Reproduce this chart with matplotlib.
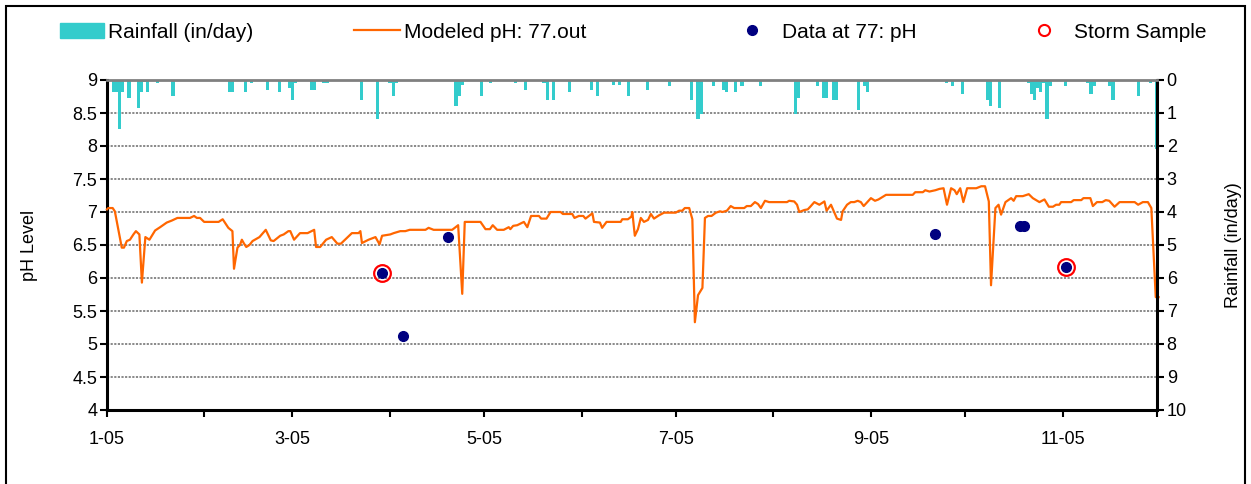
import numpy as np
import matplotlib
matplotlib.use("Agg")
import matplotlib.pyplot as plt
from matplotlib.patches import Patch, Rectangle
from matplotlib.lines import Line2D

plt.rcParams['font.family'] = ['Liberation Sans', 'DejaVu Sans']

# ---------------- data ----------------
# day offset from 1-Jan-2005
ph_days = [0, 0.4, 1.8, 2.5, 4.7, 5.4, 6.3, 7.3, 8.4, 9.2, 10.3, 11.1, 12.2, 13.5, 15.3, 16.9, 19.0, 20.6,
           22.4, 26.4, 27.7, 28.6, 29.6, 30.9, 35.5, 36.8, 38.6, 39.9, 40.4, 41.5, 42.3, 42.9, 43.6, 44.3,
           45.3, 46.3, 48.5, 50.5, 52.1, 53.0, 55.1, 56.2, 57.7, 58.3, 59.5, 61.4, 63.8, 65.9, 66.5, 67.8,
           69.7, 71.5, 73.3, 74.4, 77.9, 80.0, 80.6, 81.1, 83.2, 85.4, 86.7, 87.5, 90.1, 91.2, 93.3, 94.9,
           96.3, 101.3, 102.3, 103.9, 109.8, 111.7, 113.0, 113.8, 118.8, 120.4, 121.8, 122.7, 124.1, 126.2,
           127.8, 128.3, 129.2, 130.5, 132.6, 133.7, 134.9, 137.4, 138.1, 139.8, 141.1, 144.3, 145.0, 148.0,
           148.7, 150.1, 151.5, 152.2, 154.4, 154.9, 156.8, 157.5, 158.9, 163.4, 163.9, 165.7, 166.8, 167.1,
           167.9, 168.9, 169.8, 170.8, 172.1, 173.0, 174.0, 175.6, 177.2, 180.9, 182.0, 183.0, 183.8, 185.2,
           186.2, 187.0, 188.0, 189.4, 190.2, 191.2, 192.3, 193.7, 195.0, 195.8, 197.2, 198.4, 199.5, 202.7,
           203.5, 204.8, 206.1, 207.1, 208.0, 209.3, 210.6, 216.3, 217.0, 218.6, 219.5, 220.2, 221.8, 222.9,
           223.7, 225.0, 226.6, 228.2, 228.9, 230.3, 232.2, 233.5, 234.0, 235.4, 236.6, 237.7, 238.8, 239.8,
           240.7, 243.0, 244.3, 245.4, 247.8, 256.3, 257.1, 259.5, 260.3, 261.6, 263.5, 264.8, 266.1, 267.2,
           268.5, 269.6, 270.3, 271.4, 272.4, 273.6, 276.5, 278.1, 279.3, 280.5, 281.2, 282.6, 283.6, 284.4,
           285.8, 287.6, 288.4, 289.2, 291.3, 293.2, 294.5, 296.6, 298.2, 299.6, 300.9, 301.9, 302.9, 303.5,
           306.7, 307.5, 309.9, 310.6, 312.8, 313.6, 314.9, 316.6, 317.7, 318.8, 320.5, 322.1, 326.9, 328.0,
           329.5, 331.1, 332.2, 333.6, 334.5]
ph_model = [7.04, 7.06, 7.06, 7.01, 6.46, 6.46, 6.56, 6.58, 6.66, 6.71, 6.66, 5.93, 6.62, 6.58, 6.72, 6.77, 6.84, 6.87,
            6.91, 6.91, 6.94, 6.91, 6.91, 6.85, 6.85, 6.89, 6.76, 6.71, 6.14, 6.46, 6.50, 6.58, 6.52, 6.47,
            6.50, 6.56, 6.62, 6.73, 6.57, 6.56, 6.64, 6.66, 6.71, 6.71, 6.58, 6.68, 6.68, 6.73, 6.47, 6.47,
            6.58, 6.62, 6.52, 6.52, 6.68, 6.68, 6.71, 6.53, 6.58, 6.62, 6.51, 6.64, 6.66, 6.68, 6.71, 6.71,
            6.73, 6.73, 6.76, 6.73, 6.73, 6.80, 5.76, 6.85, 6.85, 6.74, 6.74, 6.80, 6.73, 6.73,
            6.77, 6.74, 6.79, 6.80, 6.85, 6.77, 6.94, 6.94, 6.90, 6.90, 7.00, 7.00, 6.97, 6.97,
            6.91, 6.94, 6.94, 6.90, 6.98, 6.85, 6.84, 6.76, 6.85, 6.85, 6.89, 6.89, 6.93, 7.00,
            6.64, 6.74, 6.91, 6.85, 6.88, 6.97, 6.90, 6.95, 6.99, 6.99, 7.02, 7.02, 7.06, 7.06,
            6.89, 5.33, 5.74, 5.85, 6.91, 6.94, 6.94, 6.99, 7.01, 7.00, 7.02, 7.09, 7.06, 7.06,
            7.09, 7.09, 7.15, 7.12, 7.06, 7.17, 7.15, 7.15, 7.17, 7.16, 7.11, 7.00, 7.03, 7.04,
            7.08, 7.15, 7.11, 7.16, 7.02, 7.11, 6.90, 6.88, 7.01, 7.11, 7.15, 7.15, 7.17, 7.15,
            7.09, 7.21, 7.17, 7.19, 7.26, 7.26, 7.30, 7.30, 7.33, 7.31, 7.33, 7.35, 7.36, 7.11,
            7.36, 7.33, 7.27, 7.36, 7.15, 7.36, 7.36, 7.39, 7.39, 7.16, 5.89, 7.06, 7.11, 6.96,
            7.15, 7.21, 7.17, 7.24, 7.24, 7.27, 7.21, 7.15, 7.19, 7.08, 7.08, 7.11, 7.11, 7.15,
            7.15, 7.18, 7.18, 7.21, 7.21, 7.09, 7.15, 7.15, 7.18, 7.17, 7.08, 7.15, 7.15, 7.11,
            7.15, 7.15, 7.06, 5.71, 5.71]

obs_days = [87.6, 94.3, 108.6, 263.3, 290.5, 291.6, 305.1]
obs_ph = [6.07, 5.12, 6.62, 6.67, 6.79, 6.79, 6.16]

storm_days = [87.6, 305.1]
storm_ph = [6.07, 6.16]

rain_days = [1, 2, 3, 4, 5, 7, 10, 11, 12, 13, 16, 17, 18, 19, 21, 22, 28, 30, 34, 38, 39, 40, 41,
             44, 45, 46, 47, 48, 50, 51, 55, 56, 58, 59, 60, 62, 63, 65, 66, 69, 70, 78, 81, 82, 83, 84,
             85, 86, 87, 90, 91, 92, 96, 111, 112, 113, 114, 116, 118, 119, 120, 122, 130, 132, 133, 134,
             139, 140, 141, 142, 143, 145, 147, 148, 151, 154, 156, 157, 158, 160, 161, 163, 164,
             165, 166, 172, 179, 180, 186, 188, 189, 190, 193, 196, 197, 198, 199, 200, 201, 202, 206, 208,
             219, 220, 226, 228, 229, 231, 232, 238, 239, 241, 242, 243, 267, 269, 272, 280, 281, 282, 283,
             284, 293, 294, 295, 296, 297, 298, 299, 300, 301, 305, 311, 312, 313, 314, 315, 317, 318, 319,
             320, 321, 328, 331, 332, 334]
rain_in = [0.04, 0.36, 0.36, 1.47, 0.36, 0.55, 0.86, 0.36, 0.06, 0.36, 0.10, 0.04, 0.04, 0.04, 0.48, 0.04, 0.04, 0.04, 0.04, 0.04, 0.36, 0.36, 0.04,
           0.36, 0.04, 0.10, 0.04, 0.04, 0.04, 0.30, 0.36, 0.04, 0.24, 0.60, 0.10, 0.04, 0.04, 0.30, 0.30, 0.10, 0.10, 0.04, 0.60, 0.04, 0.04, 0.04,
           0.04, 1.17, 0.04, 0.10, 0.48, 0.10, 0.04, 0.80, 0.48, 0.16, 0.04, 0.04, 0.04, 0.48, 0.04, 0.10, 0.10, 0.04, 0.30, 0.04,
           0.10, 0.60, 0.04, 0.60, 0.04, 0.04, 0.36, 0.04, 0.04, 0.30, 0.48, 0.04, 0.04, 0.04, 0.16, 0.16, 0.04,
           0.04, 0.48, 0.30, 0.17, 0.04, 0.60, 1.17, 1.04, 0.04, 0.17, 0.30, 0.36, 0.04, 0.04, 0.36, 0.04, 0.17, 0.04, 0.17,
           1.04, 0.55, 0.17, 0.55, 0.55, 0.60, 0.60, 0.04, 0.92, 0.17, 0.36, 0.04, 0.10, 0.17, 0.42, 0.60, 0.80, 0.04, 0.04,
           0.86, 0.10, 0.42, 0.60, 0.24, 0.36, 0.10, 1.17, 0.17, 0.04, 0.17, 0.04, 0.10, 0.42, 0.17, 0.04, 0.04, 0.04, 0.17,
           0.60, 0.04, 0.48, 0.04, 0.10, 2.10]

month_starts = [0, 31, 59, 90, 120, 151, 181, 212, 243, 273, 304, 334]
month_labels = ['1-05', '', '3-05', '', '5-05', '', '7-05', '', '9-05', '', '11-05', '']
ph_ticks = [4, 4.5, 5, 5.5, 6, 6.5, 7, 7.5, 8, 8.5, 9]
ph_tick_labels = ['4', '4.5', '5', '5.5', '6', '6.5', '7', '7.5', '8', '8.5', '9']
rain_ticks = [0, 1, 2, 3, 4, 5, 6, 7, 8, 9, 10]

# ---------------- figure ----------------
W, H = 1251, 484
fig = plt.figure(figsize=(W / 100, H / 100), dpi=100)
fig.patches.append(Rectangle((6 / W, -0.05), (1245 - 6) / W, 1.05 - 6 / H,
                             transform=fig.transFigure, fill=False, ec='black', lw=1.5))

ax = fig.add_axes([107 / W, 1 - 410 / H, 1050 / W, 330 / H])
ax.set_xlim(0, 334)
ax.set_ylim(4, 9)
ax.set_yticks(ph_ticks)
ax.set_yticklabels(ph_tick_labels)
ax.set_xticks(month_starts)
ax.set_xticklabels(month_labels)
ax.yaxis.grid(True, color='#808080', linestyle=(0, (1.2, 0.8)), lw=1.3)
ax.set_axisbelow(True)

orange = '#FF6600'
ax.plot(ph_days, ph_model, color=orange, lw=1.6, zorder=3, clip_on=False)
ax.plot(obs_days, obs_ph, 'o', color='#000080', ms=7, mec='#000080', zorder=4)
ax.plot(storm_days, storm_ph, 'o', mfc='none', mec='#FF0000', mew=1.6, ms=12, zorder=5)

for s in ['left', 'bottom']:
    ax.spines[s].set_linewidth(2.2)
    ax.spines[s].set_color('black')
ax.spines['top'].set_visible(False)
ax.spines['right'].set_visible(False)
ax.tick_params(axis='both', direction='out', length=5, width=1.5, colors='black', labelsize=13)
ax.tick_params(axis='y', pad=2)
ax.tick_params(axis='x', pad=10)
ax.set_ylabel('pH Level', fontsize=13)
ax.yaxis.set_label_coords((38 - 107) / 1050, 0.5)

ax2 = ax.twinx()
ax2.set_ylim(10, 0)
ax2.bar(rain_days, rain_in, width=1.0, color='#33CCCC', align='center', zorder=2)
ax2.set_yticks(rain_ticks)
for s in ['left', 'bottom']:
    ax2.spines[s].set_visible(False)
ax2.spines['right'].set_linewidth(2.2)
ax2.spines['right'].set_color('black')
ax2.spines['top'].set_color('#808080')
ax2.spines['top'].set_linewidth(2)
ax2.tick_params(axis='y', direction='out', length=5, width=1.5, labelsize=13, pad=2)
ax2.set_ylabel('Rainfall (in/day)', fontsize=13)
ax2.yaxis.set_label_coords((1225 - 107) / 1050, 0.5)
ax2.set_xlim(0, 334)

# ---------------- legend ----------------
ly = 1 - 32 / H
lfs = 15
common = dict(frameon=False, borderpad=0, borderaxespad=0, loc='center left', fontsize=lfs)
leg1 = fig.legend([Patch(color='#33CCCC')], ['Rainfall (in/day)'], bbox_to_anchor=(60 / W, ly),
                  handlelength=2.1, handleheight=0.72, handletextpad=0.2, **common)
leg2 = fig.legend([Line2D([], [], color=orange, lw=1.6)], ['Modeled pH: 77.out'], bbox_to_anchor=(354 / W, ly),
                  handlelength=2.2, handletextpad=0.2, **common)
leg3 = fig.legend([Line2D([], [], ls='none', marker='o', color='#000080', ms=7)], ['Data at 77: pH'],
                  bbox_to_anchor=(742 / W, ly), handlelength=1.0, handletextpad=0.9, **common)
leg4 = fig.legend([Line2D([], [], ls='none', marker='o', mfc='none', mec='#FF0000', mew=1.5, ms=8)], ['Storm Sample'],
                  bbox_to_anchor=(1034 / W, ly), handlelength=1.0, handletextpad=0.9, **common)

fig.savefig('out.png', dpi=100)
